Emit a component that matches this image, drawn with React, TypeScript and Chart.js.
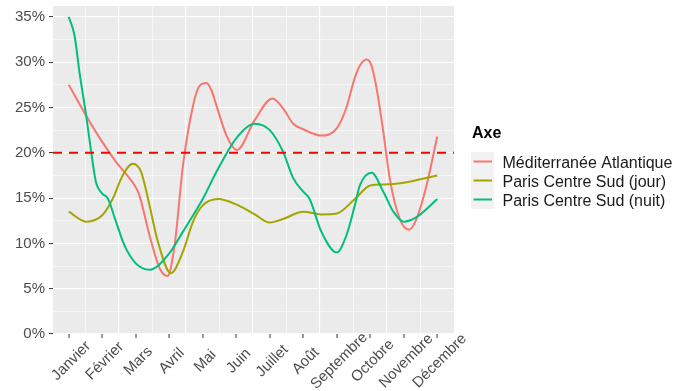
import React, { useEffect, useRef } from 'react';
import { Chart, registerables } from 'chart.js';

Chart.register(...registerables);

const MONTHS = ['Janvier', 'Février', 'Mars', 'Avril', 'Mai', 'Juin', 'Juillet', 'Août', 'Septembre', 'Octobre', 'Novembre', 'Décembre'];

const SERIES_NAMES = ['Méditerranée Atlantique', 'Paris Centre Sud (jour)', 'Paris Centre Sud (nuit)'];
const SERIES_COLORS = ['#F8766D', '#A3A500', '#00BF7D'];

const MED_X = [1, 1.52, 2, 2.41, 2.81, 3, 3.11, 3.41, 3.72, 3.95, 4.16, 4.41, 4.71, 4.91, 5.11, 5.26, 5.41, 5.71, 6.02, 6.55, 7.08, 7.4, 7.7, 8, 8.54, 9, 9.29, 9.54, 9.72, 9.9, 10.03, 10.19, 10.39, 10.58, 10.88, 11.16, 11.38, 11.68, 12];
const MED_Y = [27.5, 24.1, 21.2, 19.0, 17.2, 16.2, 15.3, 10.9, 7.2, 6.4, 9.8, 18.6, 25.2, 27.4, 27.7, 26.9, 25.2, 21.9, 20.3, 23.6, 26.0, 24.9, 23.2, 22.6, 21.9, 22.7, 25.0, 28.3, 29.8, 30.3, 29.7, 27.1, 22.3, 17.2, 12.7, 11.5, 12.7, 16.4, 21.8];

const JOUR_X = [1, 1.52, 2, 2.31, 2.61, 2.91, 3.16, 3.41, 3.66, 4.05, 4.41, 4.71, 5, 5.46, 6, 6.55, 7, 7.4, 8, 8.54, 9, 9.54, 10, 10.39, 11, 12];
const JOUR_Y = [13.5, 12.4, 13.1, 14.9, 17.5, 18.8, 17.9, 14.2, 10.2, 6.7, 9.1, 12.4, 14.2, 14.9, 14.3, 13.2, 12.3, 12.7, 13.5, 13.2, 13.3, 14.9, 16.4, 16.5, 16.7, 17.5];

const NUIT_X = [1, 1.17, 1.32, 1.52, 1.67, 1.81, 2, 2.16, 2.41, 2.66, 3, 3.41, 4, 4.41, 5, 5.41, 6, 6.55, 7, 7.4, 7.7, 8, 8.19, 8.54, 9, 9.29, 9.54, 9.69, 10.04, 10.39, 10.69, 11, 11.38, 12];
const NUIT_Y = [35.0, 33.0, 28.9, 24.1, 20.1, 16.8, 15.5, 15.0, 12.4, 9.8, 7.8, 7.1, 8.9, 11.3, 14.9, 17.9, 21.6, 23.2, 22.5, 20.1, 17.2, 15.7, 14.9, 11.3, 9.0, 10.9, 14.2, 16.4, 17.8, 15.7, 13.5, 12.4, 12.9, 14.9];

const THRESHOLD = 20;
const Y_TICKS = [0, 2.5, 5, 7.5, 10, 12.5, 15, 17.5, 20, 22.5, 25, 27.5, 30, 32.5, 35];
const X_TICKS = [1, 1.5, 2, 2.5, 3, 3.5, 4, 4.5, 5, 5.5, 6, 6.5, 7, 7.5, 8, 8.5, 9, 9.5, 10, 10.5, 11, 11.5, 12];

const FONT = '"Liberation Sans", Arial, Helvetica, sans-serif';

const toPoints = (xs: number[], ys: number[]) => xs.map((x, i) => ({ x, y: ys[i] }));

const ggPlugin = {
  id: 'ggStyle',
  beforeDraw(chart: any) {
    const { ctx, chartArea: a } = chart;
    ctx.save();
    ctx.fillStyle = '#EBEBEB';
    ctx.fillRect(a.left, a.top, a.right - a.left, a.bottom - a.top);
    ctx.restore();
  },
  afterDatasetsDraw(chart: any) {
    const { ctx, chartArea: a } = chart;
    const y = chart.scales.y.getPixelForValue(THRESHOLD);
    ctx.save();
    ctx.beginPath();
    ctx.rect(a.left, a.top, a.right - a.left, a.bottom - a.top);
    ctx.clip();
    ctx.strokeStyle = '#FF0000';
    ctx.lineWidth = 2;
    ctx.setLineDash([9, 7]);
    ctx.beginPath();
    ctx.moveTo(a.left, y);
    ctx.lineTo(a.right, y);
    ctx.stroke();
    ctx.restore();
  },
  afterDraw(chart: any) {
    const { ctx, chartArea: a } = chart;
    const xs = chart.scales.x;
    ctx.save();
    ctx.font = `15px ${FONT}`;
    ctx.fillStyle = '#4D4D4D';
    ctx.textAlign = 'center';
    ctx.textBaseline = 'middle';
    MONTHS.forEach((m, i) => {
      const px = xs.getPixelForValue(i + 1);
      ctx.save();
      ctx.translate(px + 2.5, a.bottom + 27);
      ctx.rotate(-Math.PI / 4);
      ctx.fillText(m, 0, 0);
      ctx.restore();
    });
    ctx.restore();

    // legend
    const lx = a.right + 17;
    ctx.save();
    ctx.fillStyle = '#000000';
    ctx.font = `bold 16px ${FONT}`;
    ctx.textAlign = 'left';
    ctx.textBaseline = 'alphabetic';
    ctx.fillText('Axe', lx + 1, 138);
    const rowH = 19;
    const keyTop = 152;
    ctx.fillStyle = '#F2F2F2';
    ctx.fillRect(lx, keyTop, 23, rowH * SERIES_NAMES.length);
    SERIES_NAMES.forEach((name, i) => {
      const cy = keyTop + rowH * i + rowH / 2;
      ctx.strokeStyle = SERIES_COLORS[i];
      ctx.lineWidth = 2;
      ctx.beginPath();
      ctx.moveTo(lx + 2.5, cy);
      ctx.lineTo(lx + 21, cy);
      ctx.stroke();
      ctx.fillStyle = '#1A1A1A';
      ctx.font = `16px ${FONT}`;
      ctx.fillText(name, lx + 31.5, cy + 6);
    });
    ctx.restore();
  },
};

export default function App() {
  const canvasRef = useRef<HTMLCanvasElement | null>(null);

  useEffect(() => {
    const canvas = canvasRef.current;
    if (!canvas) return;
    Chart.defaults.font.family = FONT;
    const chart = new Chart(canvas, {
      type: 'line',
      data: {
        datasets: [
          { label: SERIES_NAMES[0], data: toPoints(MED_X, MED_Y), borderColor: SERIES_COLORS[0], order: 2 },
          { label: SERIES_NAMES[1], data: toPoints(JOUR_X, JOUR_Y), borderColor: SERIES_COLORS[1], order: 1 },
          { label: SERIES_NAMES[2], data: toPoints(NUIT_X, NUIT_Y), borderColor: SERIES_COLORS[2], order: 0 },
        ].map((d) => ({
          ...d,
          borderWidth: 2,
          pointRadius: 0,
          fill: false,
          cubicInterpolationMode: 'monotone' as const,
        })),
      },
      options: {
        responsive: false,
        animation: false,
        events: [],
        layout: { padding: { top: 6, right: 225, bottom: 0, left: 0 } },
        plugins: { legend: { display: false }, tooltip: { enabled: false } },
        scales: {
          x: {
            type: 'linear',
            min: 0.53,
            max: 12.5,
            afterBuildTicks: (s: any) => {
              s.ticks = X_TICKS.map((v) => ({ value: v }));
            },
            afterFit: (s: any) => {
              s.height = 57;
              s.paddingLeft = 0;
              s.paddingRight = 0;
            },
            ticks: { autoSkip: false, maxRotation: 0, minRotation: 0, callback: () => '', padding: 0 },
            grid: {
              color: (c: any) => (Number.isInteger(c.tick?.value) ? 'rgba(0,0,0,0)' : '#FFFFFF'),
              lineWidth: (c: any) => {
                const v = c.tick?.value ?? 0;
                if (Number.isInteger(v)) return 0;
                return Math.floor(v) % 2 === 0 ? 1.1 : 0.55;
              },
              tickColor: (c: any) => (Number.isInteger(c.tick?.value) ? '#333333' : 'rgba(0,0,0,0)'),
              tickWidth: 1,
              tickLength: 4,
              drawTicks: true,
            },
            border: { display: false },
          },
          y: {
            min: 0,
            max: 36.2,
            afterBuildTicks: (s: any) => {
              s.ticks = Y_TICKS.map((v) => ({ value: v }));
            },
            afterFit: (s: any) => {
              s.width = 53;
              s.paddingTop = 0;
              s.paddingBottom = 0;
            },
            ticks: {
              autoSkip: false,
              padding: 4,
              color: '#4D4D4D',
              font: { family: FONT, size: 15 },
              callback: (v: any) => (Number(v) % 5 === 0 ? `${v}%` : ''),
            },
            grid: {
              color: '#FFFFFF',
              lineWidth: (c: any) => ((c.tick?.value ?? 0) % 5 === 0 ? 1.1 : 0.55),
              tickColor: (c: any) => ((c.tick?.value ?? 0) % 5 === 0 ? '#333333' : 'rgba(0,0,0,0)'),
              tickWidth: 1,
              tickLength: 4,
              drawTicks: true,
            },
            border: { display: false },
          },
        },
      },
      plugins: [ggPlugin],
    } as any);
    return () => chart.destroy();
  }, []);

  return (
    <div style={{ position: 'fixed', left: 0, top: 0, width: 679, height: 391, background: '#FFFFFF' }}>
      <canvas ref={canvasRef} width={679} height={391} style={{ display: 'block' }} />
    </div>
  );
}
